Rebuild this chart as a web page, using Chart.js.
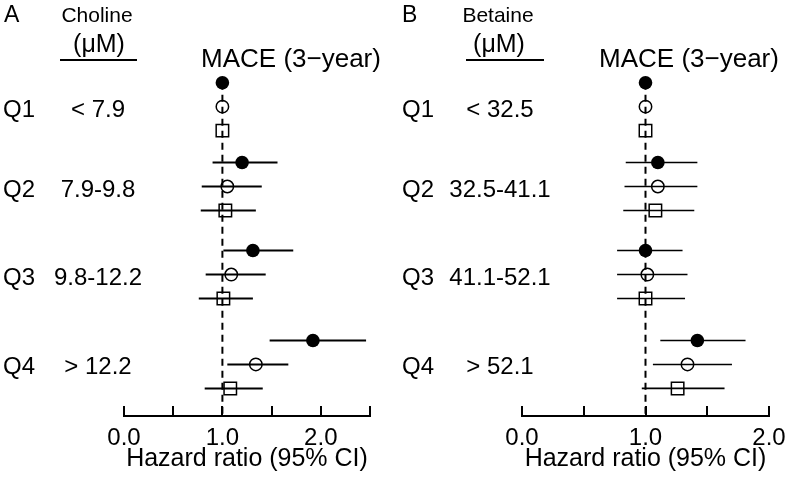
<!DOCTYPE html>
<html><head><meta charset="utf-8">
<script src="https://cdn.jsdelivr.net/npm/chart.js@4.4.1/dist/chart.umd.min.js"></script>
<style>
html,body{margin:0;padding:0;background:#fff;}
#wrap{position:relative;width:787px;height:479px;overflow:hidden;background:#fff;}
canvas{position:absolute;top:0;}
#cA{left:0;} #cB{left:400px;}
</style></head><body>
<div id="wrap"><canvas id="cA" width="400" height="479"></canvas><canvas id="cB" width="387" height="479"></canvas></div>
<script>
// ---------- data ----------
const quartiles = ['Q1', 'Q2', 'Q3', 'Q4'];
const cholineRanges = ['< 7.9', '7.9-9.8', '9.8-12.2', '> 12.2'];
const betaineRanges = ['< 32.5', '32.5-41.1', '41.1-52.1', '> 52.1'];

// Choline (panel A) – three models: filled circle, open circle, open square
const cholineHR_m1 = [1.00, 1.20, 1.31, 1.92];
const cholineLo_m1 = [1.00, 0.90, 1.01, 1.48];
const cholineHi_m1 = [1.00, 1.56, 1.72, 2.46];
const cholineHR_m2 = [1.00, 1.05, 1.09, 1.34];
const cholineLo_m2 = [1.00, 0.79, 0.83, 1.05];
const cholineHi_m2 = [1.00, 1.40, 1.44, 1.67];
const cholineHR_m3 = [1.00, 1.03, 1.01, 1.08];
const cholineLo_m3 = [1.00, 0.78, 0.76, 0.82];
const cholineHi_m3 = [1.00, 1.34, 1.31, 1.41];

// Betaine (panel B)
const betaineHR_m1 = [1.00, 1.10, 1.00, 1.42];
const betaineLo_m1 = [1.00, 0.84, 0.77, 1.12];
const betaineHi_m1 = [1.00, 1.42, 1.30, 1.81];
const betaineHR_m2 = [1.00, 1.10, 1.015, 1.34];
const betaineLo_m2 = [1.00, 0.83, 0.77, 1.06];
const betaineHi_m2 = [1.00, 1.42, 1.34, 1.70];
const betaineHR_m3 = [1.00, 1.08, 1.00, 1.26];
const betaineLo_m3 = [1.00, 0.82, 0.77, 0.97];
const betaineHi_m3 = [1.00, 1.395, 1.32, 1.64];

const xTicksA = [0, 0.5, 1.0, 1.5, 2.0, 2.5];
const xTickLabelsA = ['0.0', '', '1.0', '', '2.0', ''];
const xTicksB = [0, 0.5, 1.0, 1.5, 2.0];
const xTickLabelsB = ['0.0', '', '1.0', '', '2.0'];
const referenceHR = 1.0;

// ---------- layout ----------
const FONT = '"Liberation Sans", Arial, Helvetica, sans-serif';
Chart.defaults.font.family = FONT;
Chart.defaults.color = '#000';
const groupOffset = [0, 3.33, 7, 10.75];
const Y_MIN = -0.55, Y_MAX = 13.9;

function rowsOf(hr, k) {
  return hr.map((v, i) => ({ x: v, y: groupOffset[i] + k }));
}

function makePanel(canvasId, cfg) {
  const decor = {
    id: 'decor' + canvasId,
    beforeDatasetsDraw(chart) {
      const ctx = chart.ctx, xs = chart.scales.x, ys = chart.scales.y;
      ctx.save();
      ctx.strokeStyle = '#000';
      ctx.lineWidth = cfg.ciWidth;
      chart.data.datasets.forEach(ds => {
        if (!ds.ciLo) return;
        ds.data.forEach((p, i) => {
          if (ds.ciLo[i] === ds.ciHi[i]) return;
          const y = ys.getPixelForValue(p.y);
          ctx.beginPath();
          ctx.moveTo(xs.getPixelForValue(ds.ciLo[i]), y);
          ctx.lineTo(xs.getPixelForValue(ds.ciHi[i]), y);
          ctx.stroke();
        });
      });
      ctx.restore();
    },
    afterDraw(chart) {
      const ctx = chart.ctx, xs = chart.scales.x, ys = chart.scales.y;
      const yb = chart.chartArea.bottom;
      ctx.save();
      ctx.strokeStyle = '#000';
      ctx.fillStyle = '#000';
      ctx.lineWidth = 2;
      // axis line with upward ticks
      const t = cfg.ticks;
      ctx.beginPath();
      ctx.moveTo(xs.getPixelForValue(t[0]) - 1, yb);
      ctx.lineTo(xs.getPixelForValue(t[t.length - 1]) + 1, yb);
      t.forEach(v => {
        const x = Math.round(xs.getPixelForValue(v));
        ctx.moveTo(x, yb);
        ctx.lineTo(x, yb - 10);
      });
      ctx.stroke();
      // headers
      ctx.textBaseline = 'alphabetic';
      ctx.textAlign = 'left';
      ctx.font = '23px ' + FONT;
      ctx.fillText(cfg.letter, cfg.letterX, 22);
      ctx.textAlign = 'center';
      ctx.font = '21px ' + FONT;
      ctx.fillText(cfg.marker, cfg.headCx, 22);
      ctx.font = '25px ' + FONT;
      ctx.fillText('(\u03BCM)', cfg.unitCx, 52);
      ctx.beginPath();
      ctx.moveTo(cfg.ulX0, 60);
      ctx.lineTo(cfg.ulX1, 60);
      ctx.stroke();
      ctx.font = '26px ' + FONT;
      ctx.fillText('MACE (3\u2212year)', cfg.maceCx, 67);
      // row labels
      ctx.font = '24px ' + FONT;
      quartiles.forEach((q, i) => {
        const y = ys.getPixelForValue(groupOffset[i] + 1) + 10;
        ctx.textAlign = 'left';
        ctx.fillText(q, cfg.qX, y);
        ctx.textAlign = 'center';
        ctx.fillText(cfg.ranges[i], cfg.rangeCx, y);
      });
      ctx.restore();
    }
  };

  const m1 = { label: 'model1', data: rowsOf(cfg.hr[0], 0), ciLo: cfg.lo[0], ciHi: cfg.hi[0],
    pointStyle: 'circle', pointRadius: 6.8, backgroundColor: '#000', borderColor: '#000', borderWidth: 0 };
  const m2 = { label: 'model2', data: rowsOf(cfg.hr[1], 1), ciLo: cfg.lo[1], ciHi: cfg.hi[1],
    pointStyle: 'circle', pointRadius: 6.2, backgroundColor: 'rgba(0,0,0,0)', borderColor: '#000', borderWidth: 1.5 };
  const m3 = { label: 'model3', data: rowsOf(cfg.hr[2], 2), ciLo: cfg.lo[2], ciHi: cfg.hi[2],
    pointStyle: 'rect', pointRadius: 8.8, backgroundColor: 'rgba(0,0,0,0)', borderColor: '#000', borderWidth: 1.5 };
  const ref = { label: 'ref', data: [{ x: referenceHR, y: 0 }, { x: referenceHR, y: Y_MAX }], showLine: true,
    borderDash: [7, 5], borderWidth: 2, borderColor: '#000', pointRadius: 0 };

  return new Chart(document.getElementById(canvasId), {
    type: 'scatter',
    data: { datasets: [m1, m2, m3, ref] },
    options: {
      responsive: false, animation: false, events: [], devicePixelRatio: 1,
      layout: { padding: { left: cfg.padL, right: cfg.padR, top: 69.5, bottom: 0 } },
      plugins: { legend: { display: false }, tooltip: { enabled: false } },
      scales: {
        x: {
          type: 'linear', position: 'bottom', min: 0, max: cfg.ticks[cfg.ticks.length - 1],
          grid: { display: false, drawTicks: false }, border: { display: false },
          afterBuildTicks: s => { s.ticks = cfg.ticks.map(v => ({ value: v })); },
          afterFit: s => { s.height = 63; s.paddingLeft = 0; s.paddingRight = 0; },
          ticks: { autoSkip: false, maxRotation: 0, padding: 8, color: '#000', font: { size: 24 },
            callback: (v, i) => cfg.tickLabels[i] },
          title: { display: true, text: 'Hazard ratio (95% CI)', color: '#000', font: { size: 25 },
            padding: { top: 0, bottom: 5 } }
        },
        y: { type: 'linear', reverse: true, min: Y_MIN, max: Y_MAX, display: false }
      }
    },
    plugins: [decor]
  });
}

makePanel('cA', {
  letter: 'A', letterX: 4, marker: 'Choline', headCx: 97, unitCx: 99, ulX0: 60, ulX1: 137,
  maceCx: 291, qX: 3, rangeCx: 98, ranges: cholineRanges,
  hr: [cholineHR_m1, cholineHR_m2, cholineHR_m3],
  lo: [cholineLo_m1, cholineLo_m2, cholineLo_m3],
  hi: [cholineHi_m1, cholineHi_m2, cholineHi_m3],
  ticks: xTicksA, tickLabels: xTickLabelsA, padL: 124, padR: 30, ciWidth: 2
});
makePanel('cB', {
  letter: 'B', letterX: 2, marker: 'Betaine', headCx: 98, unitCx: 99, ulX0: 66, ulX1: 144,
  maceCx: 289, qX: 2, rangeCx: 100, ranges: betaineRanges,
  hr: [betaineHR_m1, betaineHR_m2, betaineHR_m3],
  lo: [betaineLo_m1, betaineLo_m2, betaineLo_m3],
  hi: [betaineHi_m1, betaineHi_m2, betaineHi_m3],
  ticks: xTicksB, tickLabels: xTickLabelsB, padL: 122, padR: 18, ciWidth: 1.6
});
</script>
</body></html>
